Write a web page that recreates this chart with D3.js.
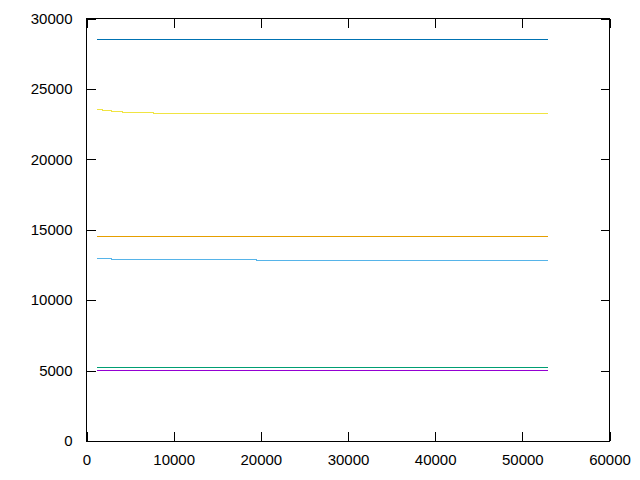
<!DOCTYPE html>
<html>
<head>
<meta charset="utf-8">
<script src="https://cdn.jsdelivr.net/npm/d3@7"></script>
<style>
  body { margin: 0; background: #fff; }
  svg { display: block; font-family: "Liberation Sans", Arial, sans-serif; }
</style>
</head>
<body>
<div id="chart"></div>
<script>
// step series, x where the value changes and the value from there on
const purpleX = [1200, 52900];
const purpleY = [5010, 5010];
const greenX = [1200, 52900];
const greenY = [5230, 5230];
const skyX = [1200, 2900, 19500, 52900];
const skyY = [12970, 12900, 12830, 12830];
const orangeX = [1200, 52900];
const orangeY = [14550, 14550];
const yellowX = [1200, 1800, 2900, 4100, 7650, 52900];
const yellowY = [23550, 23480, 23410, 23340, 23270, 23270];
const blueX = [1200, 52900];
const blueY = [28520, 28520];

const xTicks = [0, 10000, 20000, 30000, 40000, 50000, 60000];
const yTicks = [0, 5000, 10000, 15000, 20000, 25000, 30000];

const series = [
  { x: purpleX, y: purpleY, color: '#9400d3' },
  { x: greenX, y: greenY, color: '#009e73' },
  { x: skyX, y: skyY, color: '#56b4e9' },
  { x: orangeX, y: orangeY, color: '#e69f00' },
  { x: yellowX, y: yellowY, color: '#f0e442' },
  { x: blueX, y: blueY, color: '#0072b2' }
];

const W = 640, H = 480;
const margin = { top: 18.5, right: 30.5, bottom: 39, left: 86.5 };
const width = W - margin.left - margin.right;
const height = H - margin.top - margin.bottom;

const svg = d3.select('#chart').append('svg')
  .attr('width', W)
  .attr('height', H);
const g = svg.append('g')
  .attr('transform', `translate(${margin.left},${margin.top})`);

const x = d3.scaleLinear().domain([0, 60000]).range([0, width]);
const y = d3.scaleLinear().domain([0, 30000]).range([height, 0]);

// lines
const line = d3.line()
  .x(d => x(d[0]))
  .y(d => y(d[1]))
  .curve(d3.curveStepAfter);
g.selectAll('path.series')
  .data(series)
  .enter()
  .append('path')
  .attr('class', 'series')
  .attr('fill', 'none')
  .attr('stroke', d => d.color)
  .attr('stroke-width', 1)
  .attr('shape-rendering', 'crispEdges')
  .attr('d', d => line(d.x.map((v, i) => [v, d.y[i]])));

// axes, ticks inward and mirrored
function styleAxis(sel) {
  sel.select('.domain').remove();
  sel.selectAll('line').attr('stroke', '#000').attr('shape-rendering', 'crispEdges');
  sel.selectAll('text').attr('fill', '#000').attr('font-size', 15);
}
g.append('g')
  .attr('transform', `translate(0,${height})`)
  .call(d3.axisBottom(x).tickValues(xTicks).tickFormat(d3.format('d')).tickSize(-9).tickPadding(13))
  .call(styleAxis);
g.append('g')
  .call(d3.axisTop(x).tickValues(xTicks).tickFormat('').tickSize(-9))
  .call(styleAxis);
g.append('g')
  .call(d3.axisLeft(y).tickValues(yTicks).tickFormat(d3.format('d')).tickSize(-9).tickPadding(14))
  .call(styleAxis);
g.append('g')
  .attr('transform', `translate(${width},0)`)
  .call(d3.axisRight(y).tickValues(yTicks).tickFormat('').tickSize(-9))
  .call(styleAxis);

g.append('rect')
  .attr('width', width)
  .attr('height', height)
  .attr('fill', 'none')
  .attr('stroke', '#000')
  .attr('stroke-width', 1)
  .attr('shape-rendering', 'crispEdges');
</script>
</body>
</html>
